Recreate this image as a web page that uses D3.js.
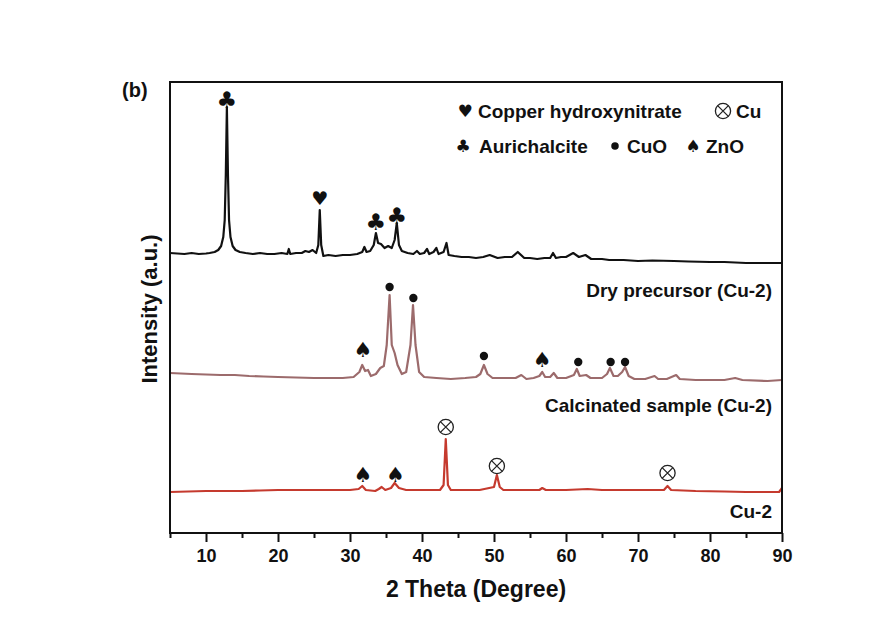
<!DOCTYPE html>
<html>
<head>
<meta charset="utf-8">
<script src="https://cdn.jsdelivr.net/npm/d3@7/dist/d3.min.js"></script>
<style>
  html, body { margin: 0; padding: 0; background: #ffffff; }
  svg { display: block; }
  text { font-family: "Liberation Sans", Arial, sans-serif; font-weight: bold; fill: #111; }
  .sym { font-family: "DejaVu Sans", sans-serif; font-weight: normal; }
</style>
</head>
<body>
<svg id="chart" width="894" height="631"></svg>
<script>
// ---------------- data ----------------
const xMajorTicks = [10, 20, 30, 40, 50, 60, 70, 80, 90];
const xMinorTicks = [5, 15, 25, 35, 45, 55, 65, 75, 85];
const sampleNames = ["Dry precursor (Cu-2)", "Calcinated sample (Cu-2)", "Cu-2"];
const sampleColors = ["#111111", "#9c6b6c", "#c53a2e"];
const sampleOffsets = [268, 151, 39];   // vertical stacking offsets (a.u.)

// Dry precursor: [2theta, intensity a.u.]
const dryPrecursor = [
  [5,12],[6,11.5],[7,11],[8,12],[9,11],[10,11.5],[10.5,12],[11.2,13],[11.7,15],[12.1,19],[12.4,28],
  [12.6,45],[12.75,90],[12.9,158],[13.05,90],[13.2,45],[13.4,28],[13.7,19],[14.1,15],[14.7,13],
  [15.5,12],[16.5,11],[17.5,12],[18.5,11],[19.5,11],[20.5,12],[21.3,11],[21.5,16],[21.7,11],
  [22.5,12],[23.3,12],[23.8,14],[24.3,13],[24.8,15],[25.3,12],[25.6,20],[25.8,55],[26.0,20],
  [26.3,9],[27,10],[28,9],[29,10],[30,10],[31,11],[31.7,13],[32.0,18],[32.3,13],[32.8,14],
  [33.3,20],[33.6,32],[33.9,22],[34.3,21],[34.8,17],[35.3,19],[35.8,17],[36.2,25],[36.5,42],
  [36.8,20],[37.2,14],[38,12],[38.8,11],[39.3,14],[39.7,11],[40.3,12],[40.7,16],[41.0,11],
  [41.6,13],[42.0,17],[42.3,11],[43.0,13],[43.4,22],[43.7,10],[44.5,9],[45.5,8],[46.5,8],
  [47.5,7],[48.5,8],[49.4,10],[50.5,7],[51.5,8],[52.5,8],[53.3,13],[54.2,7],[55,7],[56,6],
  [57,7],[57.8,7],[58.2,12],[58.6,7],[59.3,8],[60,8],[61.0,12],[61.8,8],[62.7,10],[63.5,6],
  [65,6],[66,5],[68,5],[70,4],[72,4.5],[75,4],[77,3.5],[80,3],[82,3],[85,2],[88,2],[90,2]
];

// Calcinated sample
const calcinated = [
  [5,9],[6.5,8.5],[8,8],[10,7.5],[12,7],[14,7],[16,6],[18,5.5],[20,5],[22.5,4.5],[25,4],[27,4],
  [29,4],[30.5,5],[31.3,10],[31.7,17],[32.1,11],[32.5,12],[32.9,6],[33.6,8],[34.2,14],[34.7,16],
  [35.1,37],[35.5,87],[35.8,37],[36.2,29],[36.6,17],[37.2,8],[37.8,10],[38.4,37],[38.75,77],
  [39.1,37],[39.6,10],[40.3,5],[42,4],[44,3],[46,4],[47.5,5],[48.1,8],[48.6,17],[49.1,8],
  [49.8,4],[51,4],[53,4],[53.8,7],[54.5,3],[55.5,4],[56.3,6],[56.7,10],[57.1,5],[57.8,5],
  [58.3,9],[58.8,4],[60,4],[61.1,7],[61.5,13],[61.9,6],[62.8,7],[63.4,4],[65,4],[65.7,8],
  [66.1,14],[66.6,6],[67.2,6],[67.8,10],[68.2,15],[68.7,6],[69.5,3],[71,3],[72.3,6],[72.8,3],
  [74,3],[75.3,7],[75.8,3],[78,2],[82,2],[83.5,4],[84.5,2],[88,1],[90,2]
];

// Reduced catalyst Cu-2
const reduced = [
  [5,2],[7.5,2.5],[10,3],[12.5,3],[15,3],[17.5,3.5],[20,4],[22.5,4],[25,4],[27.5,4],[30,4],
  [31.2,5],[31.7,8],[32.2,4],[33.5,3],[34.0,5],[34.4,7],[34.9,4],[35.7,6],[36.2,11],[36.8,6],
  [37.8,4],[40,4],[42.5,4],[43.0,9],[43.3,55],[43.6,9],[44.0,4],[46,4],[48,4],[50.0,7],
  [50.4,19],[50.8,7],[51.3,4],[54,4],[56.3,4],[56.7,6],[57.2,4],[60,4],[63,5],[65,4],[70,4],
  [73.6,4],[74.1,8],[74.6,4],[78,3],[82,2.5],[85,2],[89.6,2],[90,6]
];

// Phase markers: [2theta, height a.u. relative to trace offset]
const dryClubs   = [[12.9,165],[33.6,43],[36.5,49]];
const dryHearts  = [[25.8,67]];
const calcSpades = [[31.8,32],[56.7,22]];
const calcDots   = [[35.5,95],[38.8,84],[48.6,26],[61.7,20],[66.2,20],[68.2,20]];
const redSpades  = [[31.8,19],[36.3,19]];
const redCu      = [[43.3,67],[50.4,28],[74.1,21]];

const legendRow1 = [["heart","Copper hydroxynitrate"],["otimes","Cu"]];
const legendRow2 = [["club","Aurichalcite"],["dot","CuO"],["spade","ZnO"]];

// ---------------- layout ----------------
const svg = d3.select("#chart");
const W = 894, H = 631;
const m = {left: 170, right: 894 - 782, top: 82, bottom: 631 - 533};
svg.append("rect").attr("width", W).attr("height", H).attr("fill", "#ffffff");

const x = d3.scaleLinear().domain([5, 90]).range([m.left, W - m.right]);
const y = d3.scaleLinear().domain([0, 451]).range([H - m.bottom, m.top]);

const traces = [dryPrecursor, calcinated, reduced];
const line = d3.line().x(d => x(d[0])).y(d => y(d[1]));

traces.forEach((t, i) => {
  const off = sampleOffsets[i];
  svg.append("path")
    .datum(t.map(d => [d[0], d[1] + off]))
    .attr("d", line)
    .attr("fill", "none")
    .attr("stroke", sampleColors[i])
    .attr("stroke-width", 2.2)
    .attr("stroke-linejoin", "round");
});

// axes
const gx = svg.append("g").attr("transform", `translate(0,${H - m.bottom})`);
gx.call(d3.axisBottom(x).tickValues(xMajorTicks).tickSize(9).tickPadding(7).tickFormat(d3.format("d")));
const gxm = svg.append("g").attr("transform", `translate(0,${H - m.bottom})`);
gxm.call(d3.axisBottom(x).tickValues(xMinorTicks).tickSize(5).tickFormat(""));
[gx, gxm].forEach(g => {
  g.select(".domain").remove();
  g.selectAll(".tick line").attr("stroke", "#111").attr("stroke-width", 2);
});
gx.selectAll(".tick text")
  .attr("font-size", 18).attr("fill", "#111")
  .style("font-family", "'Liberation Sans', Arial, sans-serif").style("font-weight", "bold");

// frame
svg.append("rect")
  .attr("x", x(5)).attr("y", y(451))
  .attr("width", x(90) - x(5)).attr("height", y(0) - y(451))
  .attr("fill", "none").attr("stroke", "#111").attr("stroke-width", 2);

// axis titles
svg.append("text").attr("x", 476).attr("y", 597).attr("text-anchor", "middle")
  .attr("font-size", 23).text("2 Theta (Degree)");
svg.append("text").attr("transform", "translate(157,309) rotate(-90)").attr("text-anchor", "middle")
  .attr("font-size", 22).text("Intensity (a.u.)");
svg.append("text").attr("x", 122).attr("y", 97).attr("font-size", 20).text("(b)");

// sample labels
const labelBase = [297, 412, 518];
sampleNames.forEach((n, i) => {
  svg.append("text").attr("x", 772).attr("y", labelBase[i]).attr("text-anchor", "end")
    .attr("font-size", 19).text(n);
});

// ---------------- marker drawing ----------------
const glyph = {club: "\u2663", spade: "\u2660", heart: "\u2665"};
function drawGlyph(kind, cx, cy, size) {
  if (kind === "dot") {
    svg.append("circle").attr("cx", cx).attr("cy", cy).attr("r", size * 0.22).attr("fill", "#111");
  } else if (kind === "otimes") {
    const r = size * 0.4;
    const g = svg.append("g").attr("transform", `translate(${cx},${cy})`);
    g.append("circle").attr("r", r).attr("fill", "none").attr("stroke", "#222").attr("stroke-width", 1.3);
    const k = r * 0.707;
    g.append("path").attr("d", `M${-k},${-k}L${k},${k}M${-k},${k}L${k},${-k}`)
      .attr("stroke", "#222").attr("stroke-width", 1.3);
  } else {
    svg.append("text").attr("class", "sym").attr("x", cx).attr("y", cy)
      .attr("text-anchor", "middle").attr("dominant-baseline", "central")
      .attr("font-size", size).attr("fill", "#111").text(glyph[kind]);
  }
}
function placeMarkers(list, kind, traceIdx, size) {
  list.forEach(d => drawGlyph(kind, x(d[0]), y(d[1] + sampleOffsets[traceIdx]), size));
}
placeMarkers(dryClubs, "club", 0, 23);
placeMarkers(dryHearts, "heart", 0, 19);
placeMarkers(calcSpades, "spade", 1, 21);
placeMarkers(calcDots, "dot", 1, 19);
placeMarkers(redSpades, "spade", 2, 21);
placeMarkers(redCu, "otimes", 2, 19);

// ---------------- legend ----------------
const legendLayout1 = [[465, 478], [723, 732]];
const legendLayout2 = [[463, 479], [615, 627], [693, 706]];
function drawLegendRow(row, layout, cy, base) {
  row.forEach((d, i) => {
    drawGlyph(d[0], layout[i][0], cy, d[0] === "otimes" ? 19 : (d[0] === "dot" ? 17 : 17));
    svg.append("text").attr("x", layout[i][1] + (d[0] === "otimes" ? 4 : 0)).attr("y", base)
      .attr("font-size", 19).text(d[1]);
  });
}
drawLegendRow(legendRow1, legendLayout1, 111, 118);
drawLegendRow(legendRow2, legendLayout2, 146, 153);
</script>
</body>
</html>
